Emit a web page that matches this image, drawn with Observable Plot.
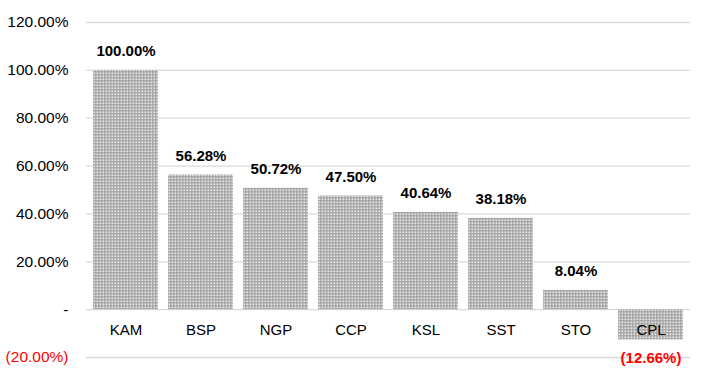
<!DOCTYPE html>
<html>
<head>
<meta charset="utf-8">
<script src="https://cdn.jsdelivr.net/npm/d3@7"></script>
<script src="https://cdn.jsdelivr.net/npm/@observablehq/plot@0.6"></script>
<style>
  html, body { margin: 0; padding: 0; background: #fff; }
  svg { font-family: "Liberation Sans", Arial, sans-serif; }
</style>
</head>
<body>
<div id="chart"></div>
<script>
const categories = ["KAM", "BSP", "NGP", "CCP", "KSL", "SST", "STO", "CPL"];
const values = [100.00, 56.28, 50.72, 47.50, 40.64, 38.18, 8.04, -12.66];
const yTicks = [-20, 0, 20, 40, 60, 80, 100, 120];

const data = categories.map((c, i) => ({ name: c, value: values[i] }));

const fmtPct = v => v === 0 ? "-" : (v < 0 ? `(${Math.abs(v).toFixed(2)}%)` : `${v.toFixed(2)}%`);

const chart = Plot.plot({
  width: 706,
  height: 379,
  marginLeft: 86,
  marginRight: 16,
  marginTop: 22,
  marginBottom: 22,
  style: { fontFamily: "'Liberation Sans', Arial, sans-serif", background: "#fff" },
  x: { domain: categories, paddingInner: 0.138, paddingOuter: 0.069, axis: null },
  y: { domain: [-20, 120], axis: null },
  marks: [
    Plot.ruleY(yTicks, { stroke: "#d9d9d9", strokeWidth: 1.3 }),
    Plot.barY(data, { x: "name", y: "value", fill: "url(#dots)" }),
    Plot.text(yTicks, {
      frameAnchor: "left", y: d => d, dx: -18, textAnchor: "end",
      text: d => fmtPct(d), fontSize: 15.5,
      fill: d => d < 0 ? "#ff0000" : "#000"
    }),
    Plot.text(data, { x: "name", y: 0, dy: 21, text: "name", fontSize: 15, fill: "#000" }),
    Plot.text(data.filter(d => d.value >= 0), {
      x: "name", y: "value", dy: -19,
      text: d => fmtPct(d.value), fontSize: 15, fontWeight: "bold", fill: "#000"
    }),
    Plot.text(data.filter(d => d.value < 0), {
      x: "name", y: "value", dy: 18,
      text: d => fmtPct(d.value), fontSize: 15, fontWeight: "bold", fill: "#ff0000"
    })
  ]
});

const svg = d3.select(chart);
const defs = svg.insert("defs", ":first-child");
const pat = defs.append("pattern")
  .attr("id", "dots").attr("patternUnits", "userSpaceOnUse")
  .attr("width", 3).attr("height", 3);
pat.append("rect").attr("width", 3).attr("height", 3).attr("fill", "#a6a6a6");
pat.append("rect").attr("x", 0.5).attr("y", 0.5).attr("width", 1.6).attr("height", 1.6).attr("fill", "#ebebeb");

document.getElementById("chart").appendChild(chart);
</script>
</body>
</html>
